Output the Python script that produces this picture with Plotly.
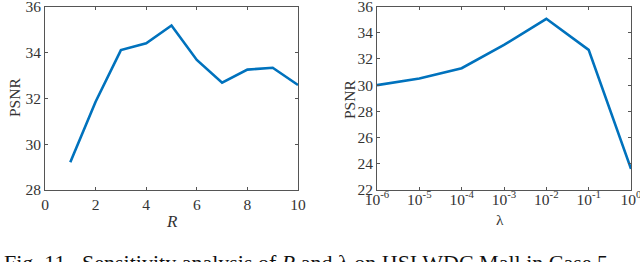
import plotly.graph_objects as go

# Data
r_values = [1, 2, 3, 4, 5, 6, 7, 8, 9, 10]
psnr_r = [29.21, 31.85, 34.10, 34.40, 35.17, 33.67, 32.68, 33.25, 33.33, 32.58]

lambda_values = [1e-6, 1e-5, 1e-4, 1e-3, 1e-2, 1e-1, 1e0]
psnr_lambda = [30.00, 30.50, 31.29, 33.07, 35.06, 32.69, 23.61]

left_xticks = [0, 2, 4, 6, 8, 10]
left_yticks = [28, 30, 32, 34, 36]
right_xtick_exp = [-6, -5, -4, -3, -2, -1, 0]
right_yticks = [22, 24, 26, 28, 30, 32, 34, 36]

caption = "Fig. 11.  Sensitivity analysis of <i>R</i> and λ on HSI WDC Mall in Case 5."

FONT = "Liberation Serif"
LINE_COLOR = "#0072BD"
AX_COLOR = "#555555"
TXT_COLOR = "#333333"

W, H = 640, 262

def px(x):
    return x / W

def py(y):
    return (H - y) / H

fig = go.Figure()
fig.add_trace(go.Scatter(x=r_values, y=psnr_r, mode="lines",
                         line=dict(color=LINE_COLOR, width=2.6),
                         xaxis="x", yaxis="y", showlegend=False))
fig.add_trace(go.Scatter(x=lambda_values, y=psnr_lambda, mode="lines",
                         line=dict(color=LINE_COLOR, width=2.6),
                         xaxis="x2", yaxis="y2", showlegend=False))

axis_common = dict(showline=True, linecolor=AX_COLOR, linewidth=1, mirror="ticks",
                   ticks="inside", ticklen=3, tickcolor=AX_COLOR, showgrid=False,
                   zeroline=False, automargin=False, ticklabeloverflow="allow",
                   tickfont=dict(family=FONT, size=15.5, color=TXT_COLOR))

fig.update_layout(
    width=W, height=H,
    margin=dict(l=0, r=0, t=0, b=0),
    paper_bgcolor="white", plot_bgcolor="white",
    xaxis=dict(domain=[px(45), px(298)], range=[0, 10], tickvals=left_xticks,
               anchor="y", **axis_common),
    yaxis=dict(domain=[py(190), py(6.5)], range=[28, 36], tickvals=left_yticks,
               anchor="x", **axis_common),
    xaxis2=dict(domain=[px(377), px(631)], type="log", range=[-6, 0],
                tickvals=[10.0 ** e for e in right_xtick_exp],
                ticktext=["10<sup>%d</sup>" % e for e in right_xtick_exp],
                ticklabelstandoff=-5,
                anchor="y2", **axis_common),
    yaxis2=dict(domain=[py(190), py(6.5)], range=[22, 36], tickvals=right_yticks,
                anchor="x2", **axis_common),
)

ann_font = dict(family=FONT, size=15.5, color=TXT_COLOR)
fig.add_annotation(x=px(15), y=py(98), xref="paper", yref="paper", text="PSNR",
                   textangle=-90, showarrow=False, font=ann_font,
                   xanchor="center", yanchor="middle")
fig.add_annotation(x=px(350), y=py(100), xref="paper", yref="paper", text="PSNR",
                   textangle=-90, showarrow=False, font=ann_font,
                   xanchor="center", yanchor="middle")
fig.add_annotation(x=px(172), y=py(221), xref="paper", yref="paper", text="<i>R</i>",
                   showarrow=False, font=dict(family=FONT, size=17, color=TXT_COLOR),
                   xanchor="center", yanchor="middle")
fig.add_annotation(x=px(500), y=py(219), xref="paper", yref="paper", text="λ",
                   showarrow=False, font=ann_font,
                   xanchor="center", yanchor="middle")
fig.add_annotation(x=px(2), y=py(248), xref="paper", yref="paper", text=caption,
                   showarrow=False, font=dict(family=FONT, size=22, color="#111111"),
                   xanchor="left", yanchor="top")

fig.write_html("out.html", config={"displayModeBar": False},
               post_script="document.body.style.margin='0';document.body.style.overflow='hidden';")
